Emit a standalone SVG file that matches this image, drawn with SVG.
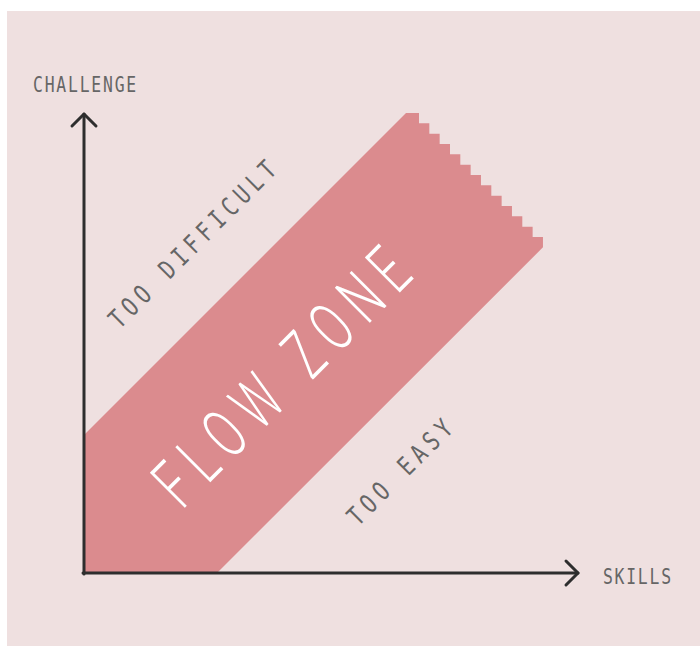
<svg xmlns="http://www.w3.org/2000/svg" width="700" height="646" viewBox="0 0 700 646">
  <style>
    .lbl { font-family: "DejaVu Sans Mono", "Liberation Mono", monospace; fill: #666666; }
    .axis { fill: none; stroke: #2e2e2e; stroke-width: 3; stroke-linecap: round; stroke-linejoin: round; }
    .zone-text { font-family: Roboto, "DejaVu Sans", sans-serif; font-weight: 300; fill: #ffffff; }
  </style>
  <rect id="background" x="7" y="11" width="693" height="635" fill="#efe0e0"/>
  <g id="flow-zone">
    <path d="M84,435 L406,113 H419 v10.33h10.33 v10.33h10.33 v10.33h10.33 v10.33h10.33 v10.33h10.33 v10.33h10.33 v10.33h10.33 v10.33h10.33 v10.33h10.33 v10.33h10.33 v10.33h10.33 v10.33h10.33 v10.33 L217,573 H84 Z" fill="#db8b8e"/>
    <g transform="translate(281,376.5) rotate(-45) scale(0.64,1)">
      <text class="zone-text" x="0" y="24.7" font-size="69.6" text-anchor="middle" textLength="515" lengthAdjust="spacing">FLOW ZONE</text>
    </g>
  </g>
  <g id="too-difficult" transform="translate(192,244) rotate(-45) scale(0.78,1)">
    <text class="lbl" x="0" y="9.5" font-size="26" text-anchor="middle" textLength="287" lengthAdjust="spacing">TOO DIFFICULT</text>
  </g>
  <g id="too-easy" transform="translate(399.5,472) rotate(-45) scale(0.78,1)">
    <text class="lbl" x="0" y="9.5" font-size="26" text-anchor="middle" textLength="175" lengthAdjust="spacing">TOO EASY</text>
  </g>
  <g id="connectors">
    <path class="axis" d="M84,574 V114"/>
    <path class="axis" d="M72,126 L84,114 L96,126"/>
    <path class="axis" d="M83,573 H578"/>
    <path class="axis" d="M566,561 L578,573 L566,585"/>
  </g>
  <g id="challenge-label" transform="translate(33,91.5) scale(0.8,1)">
    <text class="lbl" x="0" y="0" font-size="20.5" textLength="129" lengthAdjust="spacing">CHALLENGE</text>
  </g>
  <g id="skills-label" transform="translate(603,583.5) scale(0.8,1)">
    <text class="lbl" x="0" y="0" font-size="20.5" textLength="85" lengthAdjust="spacing">SKILLS</text>
  </g>
</svg>
